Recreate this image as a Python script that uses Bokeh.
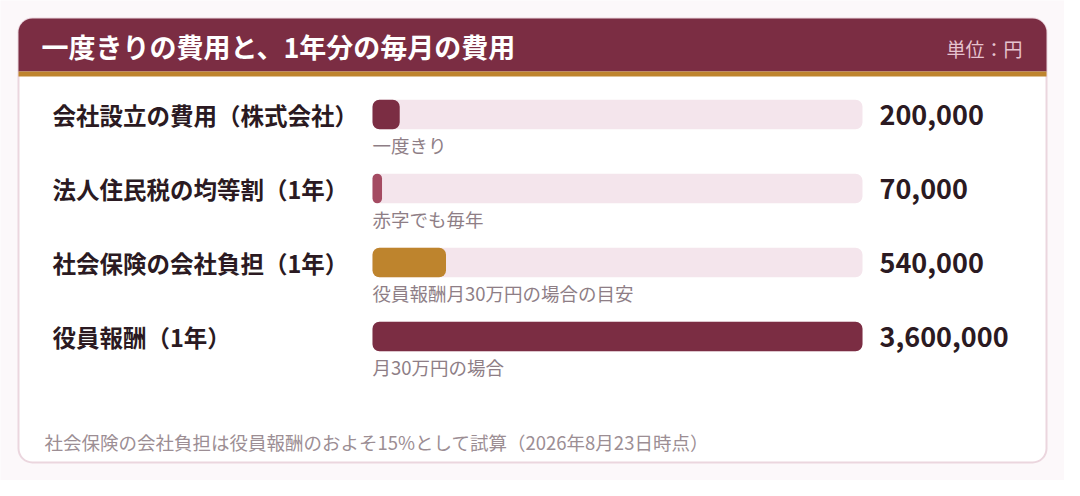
from bokeh.plotting import figure
from bokeh.models import Range1d, ColumnDataSource
from bokeh.core.properties import value
from bokeh.embed import file_html
from bokeh.resources import INLINE

# ---- data ----
title = "一度きりの費用と、1年分の毎月の費用"
unit = "単位：円"
labels = ["会社設立の費用（株式会社）", "法人住民税の均等割（1年）", "社会保険の会社負担（1年）", "役員報酬（1年）"]
values = [200000, 70000, 540000, 3600000]
notes = ["一度きり", "赤字でも毎年", "役員報酬月30万円の場合の目安", "月30万円の場合"]
footer = "社会保険の会社負担は役員報酬のおよそ15%として試算（2026年8月23日時点）"

# ---- styles ----
W, H = 1064, 480
FONT = "Noto Sans CJK JP"
MAROON = "#7B2D43"
GOLD = "#BE842D"
bar_colors = [MAROON, "#A44B62", GOLD, MAROON]
TRACK = "#F4E5EC"
DARK = "#2B1A22"

p = figure(width=W, height=H, x_range=Range1d(0, W), y_range=Range1d(H, 0),
           output_backend="svg", toolbar_location=None, min_border=0,
           background_fill_color="#FCF8FA", border_fill_color="#FCF8FA",
           outline_line_color=None)
p.axis.visible = False
p.grid.visible = False

# value scale: 0 at x=372, max at x=862
VMAX = max(values)
px0, px1 = 372, 862
k = VMAX / (px1 - px0)
p.extra_x_ranges = {"val": Range1d(-px0 * k, (W - px0) * k)}
# row scale: row 0 at y=114, spacing 74px
r0, step = 114, 74
p.extra_y_ranges = {"rows": Range1d((H - r0) / step, -r0 / step)}

# card
p.quad(left=18, right=1046, top=18, bottom=462, fill_color="#FFFFFF",
       line_color="#EBD6DE", line_width=2, border_radius=14)
p.quad(left=18, right=1046, top=18, bottom=71, fill_color=MAROON,
       line_color=None, border_radius=(14, 14, 0, 0))
p.quad(left=18, right=1046, top=71, bottom=76, fill_color=GOLD, line_color=None)

p.text(x=[41], y=[46], text=[title], text_font=value(FONT), text_font_size="27px",
       text_font_style="bold", text_color="#FFFFFF", text_baseline="middle")
p.text(x=[1022], y=[48], text=[unit], text_font=value(FONT), text_font_size="19px",
       text_color="#E6C3CF", text_align="right", text_baseline="middle")

rows = list(range(len(labels)))
src = ColumnDataSource(dict(row=rows, label=labels, val=values, note=notes,
                            color=bar_colors,
                            vtxt=[f"{v:,}" for v in values],
                            zero=[0] * len(values), vmax=[VMAX] * len(values)))

p.hbar(y="row", left="zero", right="vmax", height=0.4, source=src,
       fill_color=TRACK, line_color=None, border_radius=7,
       x_range_name="val", y_range_name="rows")
p.hbar(y="row", left="zero", right="val", height=0.4, source=src,
       fill_color="color", line_color=None, border_radius=7,
       x_range_name="val", y_range_name="rows")

p.text(x=52, y="row", text="label", source=src, y_range_name="rows",
       text_font=value(FONT), text_font_size="23.5px", text_font_style="bold",
       text_color=DARK, text_baseline="middle")
p.text(x="zero", y="row", text="note", source=src, x_range_name="val", y_range_name="rows",
       y_offset=30, text_font=value(FONT), text_font_size="18.5px",
       text_color="#8E7E86", text_baseline="middle")
p.text(x=879, y="row", text="vtxt", source=src, y_range_name="rows",
       text_font=value(FONT), text_font_size="27px", text_font_style="bold",
       text_color=DARK, text_baseline="middle")

p.text(x=[44], y=[441], text=[footer], text_font=value(FONT), text_font_size="18.5px",
       text_color="#9C8E94", text_baseline="middle")

open("out.html", "w").write(file_html(p, INLINE))
